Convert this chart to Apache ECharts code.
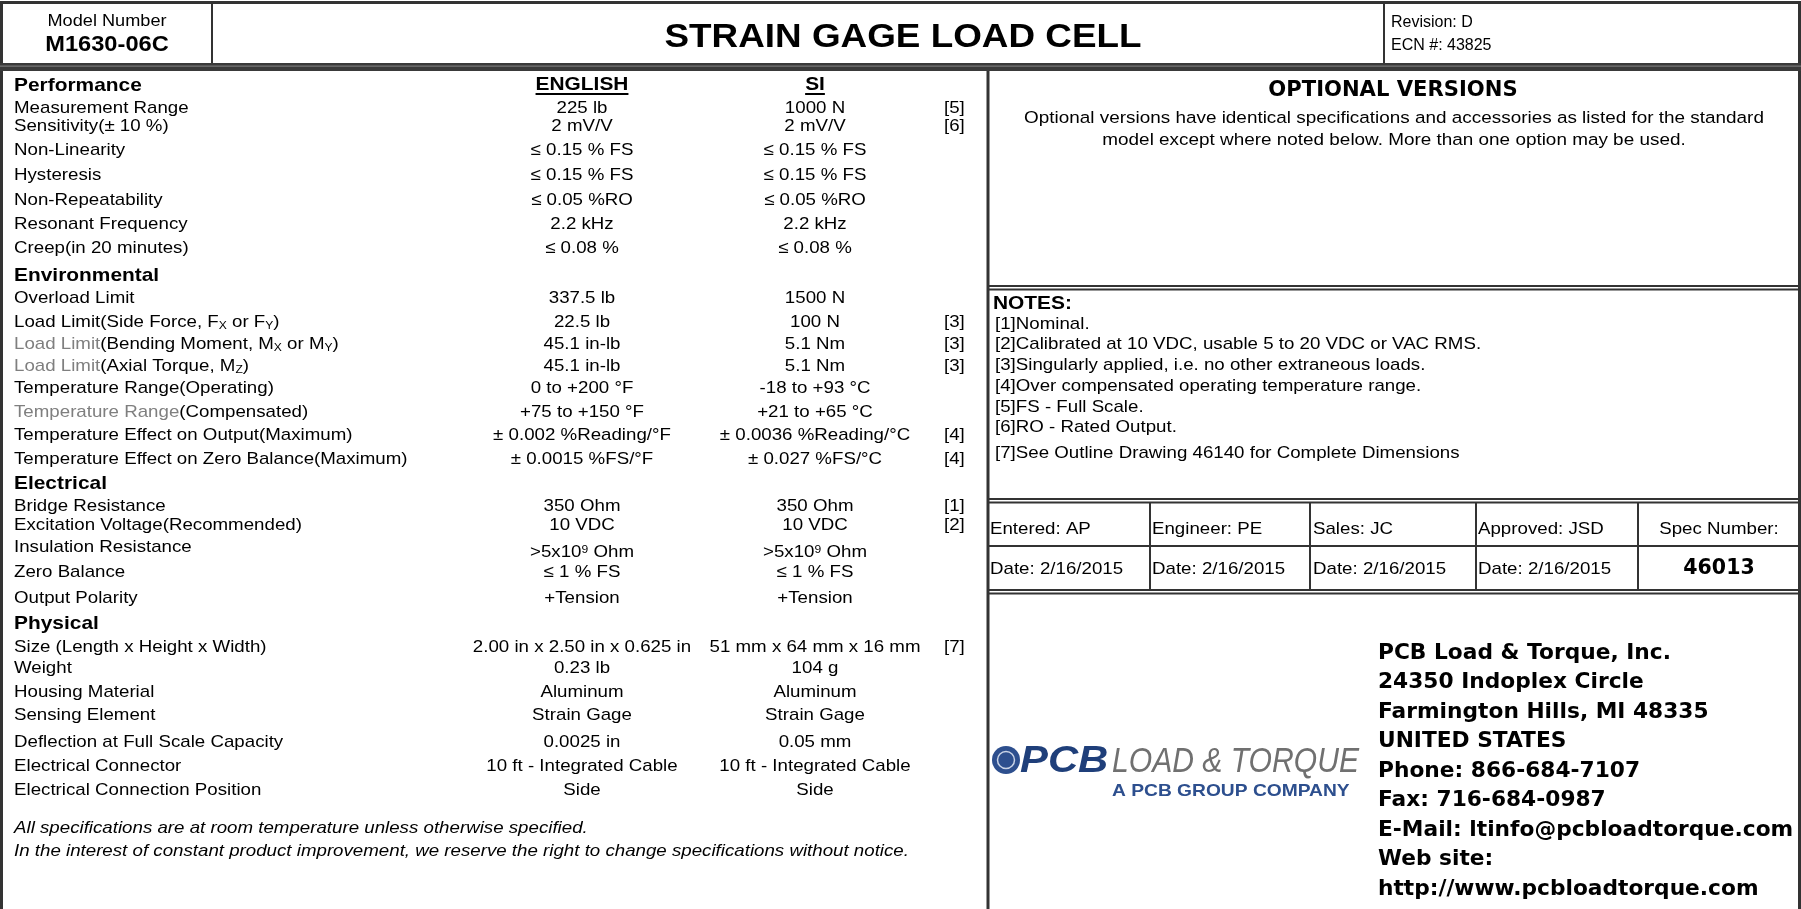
<!DOCTYPE html>
<html><head><meta charset="utf-8">
<script src="https://cdn.jsdelivr.net/npm/echarts@6/dist/echarts.min.js"></script>
<style>html,body{margin:0;padding:0;background:#fff}#c{width:1801px;height:909px}</style>
</head><body><div id="c"></div>
<script>
// ---------- DATA ----------
const modelLabel = 'Model Number';
const modelNumber = 'M1630-06C';
const sheetTitle = 'STRAIN GAGE LOAD CELL';
const revisionLines = ['Revision: D', 'ECN #: 43825'];
const columnHeads = ['ENGLISH', 'SI'];
const sectionNames = ['Performance', 'Environmental', 'Electrical', 'Physical'];
const specLabels = [
  'Measurement Range', 'Sensitivity(± 10 %)', 'Non-Linearity', 'Hysteresis', 'Non-Repeatability', 'Resonant Frequency', 'Creep(in 20 minutes)',
  'Overload Limit', 'Load Limit(Side Force, F{sub|X} or F{sub|Y})', '{g|Load Limit}(Bending Moment, M{sub|X} or M{sub|Y})', '{g|Load Limit}(Axial Torque, M{sub|Z})',
  'Temperature Range(Operating)', '{g|Temperature Range}(Compensated)', 'Temperature Effect on Output(Maximum)', 'Temperature Effect on Zero Balance(Maximum)',
  'Bridge Resistance', 'Excitation Voltage(Recommended)', 'Insulation Resistance', 'Zero Balance', 'Output Polarity',
  'Size (Length x Height x Width)', 'Weight', 'Housing Material', 'Sensing Element', 'Deflection at Full Scale Capacity', 'Electrical Connector', 'Electrical Connection Position'
];
const englishValues = [
  '225 lb', '2 mV/V', '≤ 0.15 % FS', '≤ 0.15 % FS', '≤ 0.05 %RO', '2.2 kHz', '≤ 0.08 %',
  '337.5 lb', '22.5 lb', '45.1 in-lb', '45.1 in-lb', '0 to +200 °F', '+75 to +150 °F', '± 0.002 %Reading/°F', '± 0.0015 %FS/°F',
  '350 Ohm', '10 VDC', '>5x10{sup|9} Ohm', '≤ 1 % FS', '+Tension',
  '2.00 in x 2.50 in x 0.625 in', '0.23 lb', 'Aluminum', 'Strain Gage', '0.0025 in', '10 ft - Integrated Cable', 'Side'
];
const siValues = [
  '1000 N', '2 mV/V', '≤ 0.15 % FS', '≤ 0.15 % FS', '≤ 0.05 %RO', '2.2 kHz', '≤ 0.08 %',
  '1500 N', '100 N', '5.1 Nm', '5.1 Nm', '-18 to +93 °C', '+21 to +65 °C', '± 0.0036 %Reading/°C', '± 0.027 %FS/°C',
  '350 Ohm', '10 VDC', '>5x10{sup|9} Ohm', '≤ 1 % FS', '+Tension',
  '51 mm x 64 mm x 16 mm', '104 g', 'Aluminum', 'Strain Gage', '0.05 mm', '10 ft - Integrated Cable', 'Side'
];
const noteRefs = [
  '[5]', '[6]', '', '', '', '', '',
  '', '[3]', '[3]', '[3]', '', '', '[4]', '[4]',
  '[1]', '[2]', '', '', '',
  '[7]', '', '', '', '', '', ''
];
const footerLines = [
  'All specifications are at room temperature unless otherwise specified.',
  'In the interest of constant product improvement, we reserve the right to change specifications without notice.'
];
const optionalTitle = 'OPTIONAL VERSIONS';
const optionalText = [
  'Optional versions have identical specifications and accessories as listed for the standard',
  'model except where noted below. More than one option may be used.'
];
const notesTitle = 'NOTES:';
const noteTexts = [
  '[1]Nominal.',
  '[2]Calibrated at 10 VDC, usable 5 to 20 VDC or VAC RMS.',
  '[3]Singularly applied, i.e. no other extraneous loads.',
  '[4]Over compensated operating temperature range.',
  '[5]FS - Full Scale.',
  '[6]RO - Rated Output.',
  '[7]See Outline Drawing 46140 for Complete Dimensions'
];
const signoffNames = ['Entered: AP', 'Engineer: PE', 'Sales: JC', 'Approved: JSD', 'Spec Number:'];
const signoffDates = ['Date: 2/16/2015', 'Date: 2/16/2015', 'Date: 2/16/2015', 'Date: 2/16/2015'];
const specNumber = '46013';
const logoParts = ['PCB', 'LOAD & TORQUE', 'A PCB GROUP COMPANY'];
const companyLines = [
  'PCB Load & Torque, Inc.', '24350 Indoplex Circle', 'Farmington Hills, MI 48335', 'UNITED STATES',
  'Phone: 866-684-7107', 'Fax: 716-684-0987', 'E-Mail: ltinfo@pcbloadtorque.com', 'Web site:', 'http://www.pcbloadtorque.com'
];

// ---------- LAYOUT ----------
const sectionY = [85.5, 276, 484, 624];
const rowY = [108.5, 126.5, 150.5, 175.5, 200.5, 224.5, 248.5,
  298.5, 322.5, 344.5, 366.5, 388.5, 412.5, 435.5, 459.5,
  506.5, 525.5, 547.5, 572.5, 598.5,
  647.5, 668.5, 692.5, 715.5, 742.5, 766.5, 790.5];
const valueYShift = {17: 5};
const colX = {label: 14, en: 582, si: 815, note: 944};
const S = 1.1;
const FONT = "'Liberation Sans', Arial, Helvetica, sans-serif";
const HEAVY = "'DejaVu Sans', sans-serif";
const LINE = '#333';

const richStyles = {
  sub: {fontSize: 11, fontFamily: FONT, fill: '#000', verticalAlign: 'bottom'},
  sup: {fontSize: 11, fontFamily: FONT, fill: '#000', verticalAlign: 'top'},
  g: {fontSize: 17, fontFamily: FONT, fill: '#7f7f7f'}
};

function T(x, y, text, o) {
  o = o || {};
  return {
    type: 'text', x: x, y: y, scaleX: o.sx != null ? o.sx : S, silent: true, z: 10,
    style: {
      text: text, fontSize: o.size || 17, fontFamily: o.family || FONT,
      fontWeight: o.weight || 'normal', fontStyle: o.style || 'normal',
      fill: o.color || '#000', textAlign: o.align || 'left', align: o.align || 'left',
      textVerticalAlign: 'middle', verticalAlign: 'middle', rich: richStyles
    }
  };
}
function L(x1, y1, x2, y2, w, c) {
  return {type: 'line', silent: true, z: 5, shape: {x1: x1, y1: y1, x2: x2, y2: y2}, style: {stroke: c || LINE, lineWidth: w || 2}};
}
const measureCtx = document.createElement('canvas').getContext('2d');
function textW(t, font) { measureCtx.font = font; return measureCtx.measureText(t).width * S; }

const els = [];
// frame
els.push(L(0, 2.5, 1801, 2.5, 3));
els.push(L(1.5, 1, 1.5, 909, 3));
els.push(L(1799.5, 1, 1799.5, 909, 3));
els.push(L(212, 2, 212, 64, 2));
els.push(L(1384, 2, 1384, 64, 2));
els.push({type: 'rect', silent: true, z: 5, shape: {x: 0, y: 63, width: 1801, height: 8}, style: {fill: '#3a3a3a'}});
els.push({type: 'rect', silent: true, z: 6, shape: {x: 0, y: 65.5, width: 1801, height: 1.2}, style: {fill: '#777'}});
els.push(L(988, 71, 988, 909, 3));
// right panel separators
els.push(L(988, 286, 1801, 286, 2)); els.push(L(988, 289.5, 1801, 289.5, 2));
els.push(L(988, 499, 1801, 499, 2)); els.push(L(988, 502.5, 1801, 502.5, 2));
els.push(L(988, 546, 1801, 546, 2));
els.push(L(988, 590, 1801, 590, 2)); els.push(L(988, 593.5, 1801, 593.5, 2));
[1150, 1310, 1476, 1638].forEach(function (x) { els.push(L(x, 502, x, 591, 2)); });

// header
els.push(T(107, 21, modelLabel, {align: 'center', size: 16.5}));
els.push(T(107, 45, modelNumber, {align: 'center', size: 21.5, weight: 'bold'}));
els.push(T(903, 38, sheetTitle, {align: 'center', size: 33.5, weight: 'bold'}));
els.push(T(1391, 23, revisionLines[0], {size: 16, sx: 1}));
els.push(T(1391, 46, revisionLines[1], {size: 16, sx: 1}));

// column heads
[[colX.en, columnHeads[0]], [colX.si, columnHeads[1]]].forEach(function (p) {
  els.push(T(p[0], 84.5, p[1], {align: 'center', size: 19, weight: 'bold'}));
  const w = textW(p[1], "bold 19px 'Liberation Sans'");
  els.push(L(p[0] - w / 2, 94, p[0] + w / 2, 94, 2, '#000'));
});
sectionNames.forEach(function (n, i) { els.push(T(colX.label, sectionY[i], n, {size: 19, weight: 'bold'})); });
specLabels.forEach(function (lab, i) {
  const y = rowY[i];
  const vy = y + (valueYShift[i] || 0);
  els.push(T(colX.label, y, lab));
  els.push(T(colX.en, vy, englishValues[i], {align: 'center'}));
  els.push(T(colX.si, vy, siValues[i], {align: 'center'}));
  if (noteRefs[i]) els.push(T(colX.note, y, noteRefs[i]));
});
els.push(T(colX.label, 828.5, footerLines[0], {style: 'italic'}));
els.push(T(colX.label, 851.5, footerLines[1], {style: 'italic'}));

// optional versions
els.push(T(1393, 91, optionalTitle, {align: 'center', size: 20.5, weight: 'bold', family: HEAVY, sx: 1.03}));
els.push(T(1394, 118, optionalText[0], {align: 'center', size: 17.2}));
els.push(T(1394, 140, optionalText[1], {align: 'center', size: 17.2}));
// notes
els.push(T(993, 304, notesTitle, {size: 19, weight: 'bold'}));
const noteY = [324, 344, 365, 386, 407, 427, 453];
noteTexts.forEach(function (t, i) { els.push(T(995, noteY[i], t)); });
// signoff table
const signX = [990, 1152, 1313, 1478];
signoffNames.slice(0, 4).forEach(function (t, i) { els.push(T(signX[i], 529, t)); });
els.push(T(1719, 529, signoffNames[4], {align: 'center'}));
signoffDates.forEach(function (t, i) { els.push(T(signX[i], 569, t)); });
els.push(T(1719, 569, specNumber, {align: 'center', size: 20.5, weight: 'bold', family: HEAVY, sx: 1}));

// logo
els.push({type: 'circle', silent: true, z: 8, shape: {cx: 1006, cy: 760, r: 14}, style: {fill: '#2d4f8e'}});
els.push({type: 'circle', silent: true, z: 9, shape: {cx: 1006, cy: 760, r: 8.5}, style: {fill: 'none', stroke: '#c9d3e6', lineWidth: 1.5}});
els.push(L(997.5, 760, 1014.5, 760, 1.2, '#c9d3e6'));
els.push(L(1006, 751.5, 1006, 768.5, 1.2, '#c9d3e6'));
els.push(T(1020, 762, logoParts[0], {size: 37, weight: 'bold', style: 'italic', color: '#1f3f7a', sx: 1.13}));
els.push(T(1112, 762, logoParts[1], {size: 35, style: 'italic', color: '#707070', sx: 0.86}));
els.push(T(1112, 791, logoParts[2], {size: 17, weight: 'bold', color: '#2d4f8e', sx: 1.13}));
// company
companyLines.forEach(function (t, i) {
  els.push(T(1378, 653.5 + i * 29.5, t, {size: 20.5, weight: 'bold', family: HEAVY, sx: 1.06}));
});

const chart = echarts.init(document.getElementById('c'), null, {renderer: 'canvas'});
chart.setOption({backgroundColor: '#fff', animation: false, graphic: {elements: els}});
</script>
</body></html>
